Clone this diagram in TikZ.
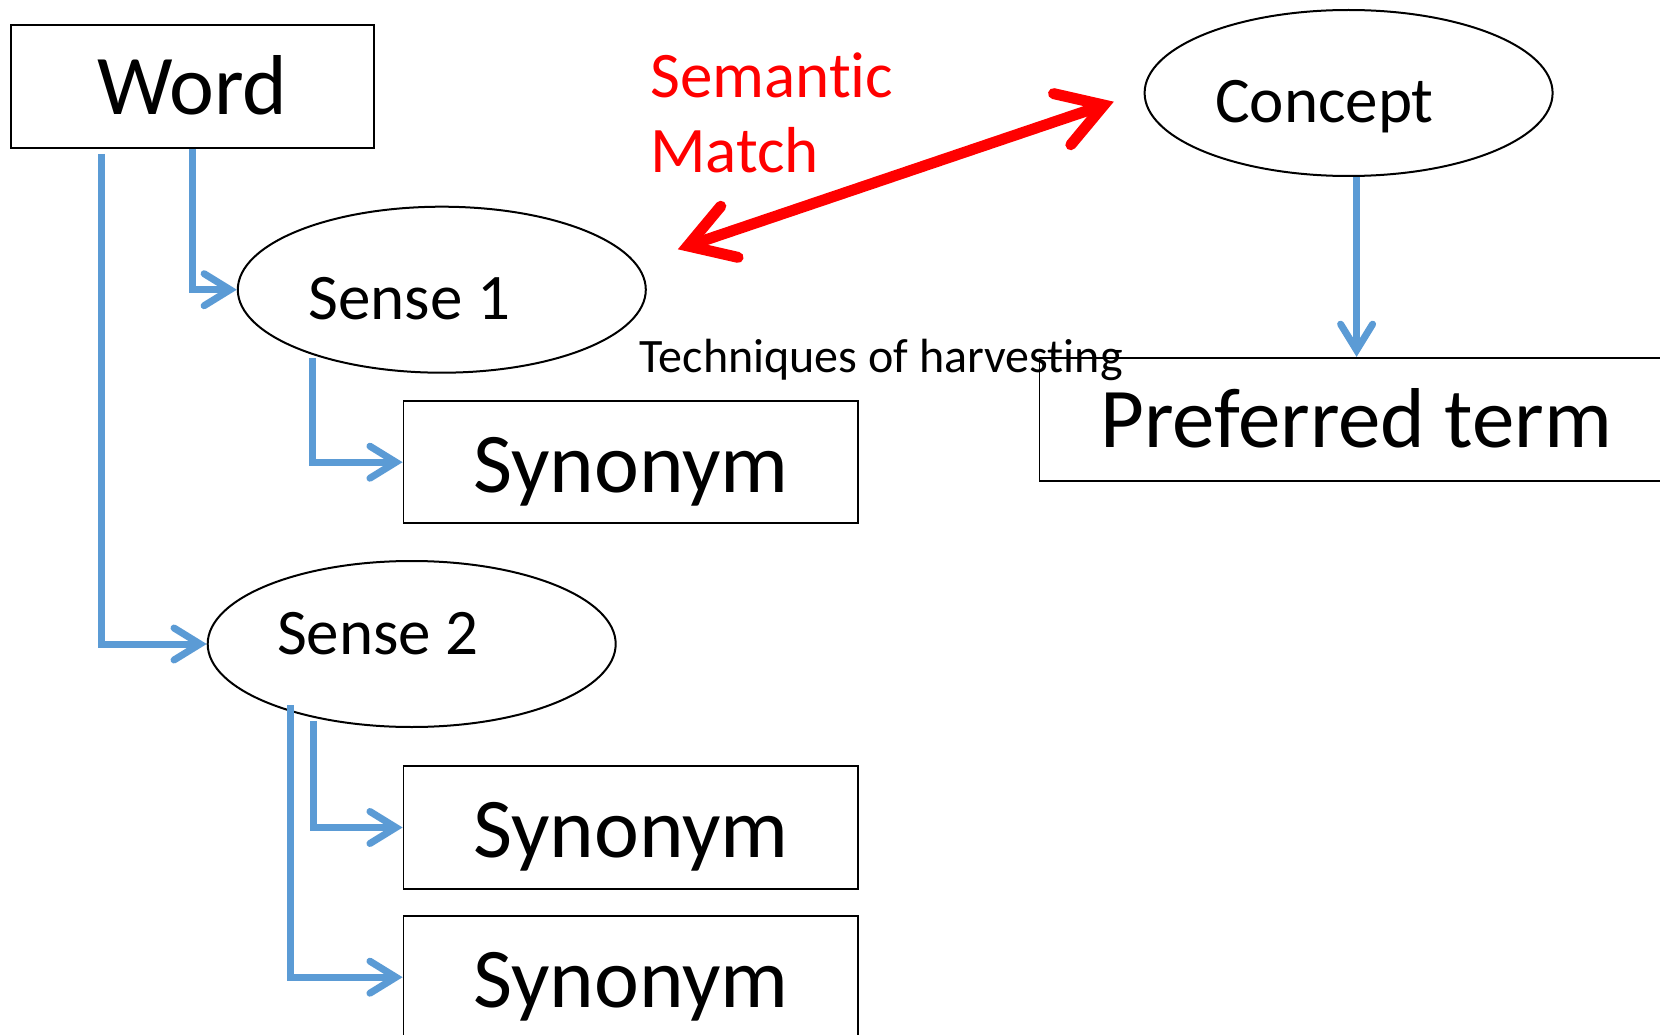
\documentclass[tikz,border=0pt]{standalone}
\usepackage{fontspec}
\setmainfont[Ligatures=NoCommon]{Carlito}
\usetikzlibrary{arrows.meta,calc,shapes.geometric}
\definecolor{bluecon}{HTML}{5B9BD5}
\definecolor{redcon}{HTML}{FF0000}
\begin{document}
\begin{tikzpicture}[x=1pt,y=-1pt,
  box/.style={draw, line width=1.7pt, rectangle, inner sep=0pt},
  ell/.style={draw, line width=2pt, ellipse, inner sep=0pt, minimum width=408pt, minimum height=166pt},
  bigtxt/.style={font=\fontsize{85}{100}\selectfont, anchor=base, inner sep=0pt},
  midtxt/.style={font=\fontsize{65}{78}\selectfont, anchor=base, inner sep=0pt},
  con/.style={draw=bluecon, line width=7pt, -{Straight Barb[length=26pt,width=32pt,line cap=round]}},
  match/.style={draw=redcon, line width=11pt, {Straight Barb[length=44pt,width=54pt,line cap=round]}-{Straight Barb[length=44pt,width=54pt,line cap=round]}}
]
\fill[white] (0,0) rectangle (1660,1035);
\useasboundingbox (0,0) rectangle (1660,1035);

% boxes
\node[box, minimum width=363pt, minimum height=123pt] (Word) at (192.4,86.5) {};
\node[box, minimum width=454.5pt, minimum height=122pt] (Syn1) at (630.7,462.2) {};
\node[box, minimum width=454.5pt, minimum height=123pt] (Syn2) at (630.7,827.5) {};
\node[box, minimum width=454.5pt, minimum height=123pt] (Syn3) at (630.7,977.2) {};
\node[box, minimum width=634pt, minimum height=123pt] (Pref) at (1356.6,419.2) {};

% ellipses
\node[ell] (S1) at (441.8,289.7) {};
\node[ell] (S2) at (411.7,644) {};
\node[ell] (Concept) at (1348.6,93) {};

% texts
\node[bigtxt] (tWord) at (192.2,115) {Word};
\node[bigtxt] (tSyn1) at (631,492) {Synonym};
\node[bigtxt] (tSyn2) at (631,857.5) {Synonym};
\node[bigtxt] (tSyn3) at (631,1007) {Synonym};
\node[bigtxt] (tPref) at (1356,447) {Preferred term};
\node[midtxt] (tS1) at (409.2,319.5) {Sense 1};
\node[midtxt] (tS2) at (378,654) {Sense 2};
\node[midtxt] (tConcept) at (1324.5,123) {Concept};
\node[midtxt, anchor=base west, text=redcon] (tSem) at (650,97.4) {Semantic};
\node[midtxt, anchor=base west, text=redcon] (tMatch) at (650,172.6) {Match};
\node[font=\fontsize{48}{57}\selectfont, anchor=base west, inner sep=0pt] (tTech) at (639.5,372) {Techniques of harvesting};

% blue connectors
\coordinate (w2) at (101.8,154);
\coordinate (s1a) at (312.5,358);
\coordinate (s2a) at (313,721);
\coordinate (s2b) at (290,705);
\draw[con] (Word.south) |- (S1.west);
\draw[con] (w2) |- (S2.west);
\draw[con] (s1a) |- (Syn1.west);
\draw[con] (s2a) |- (Syn2.west);
\draw[con] (s2b) |- (Syn3.west);
\draw[con] (Pref.north |- Concept.south) -- (Pref.north);

% red double arrow
\coordinate (ra) at (677.8,249.3);
\coordinate (rb) at (1113.8,101.7);
\draw[match] (ra) -- (rb);
\end{tikzpicture}
\end{document}
